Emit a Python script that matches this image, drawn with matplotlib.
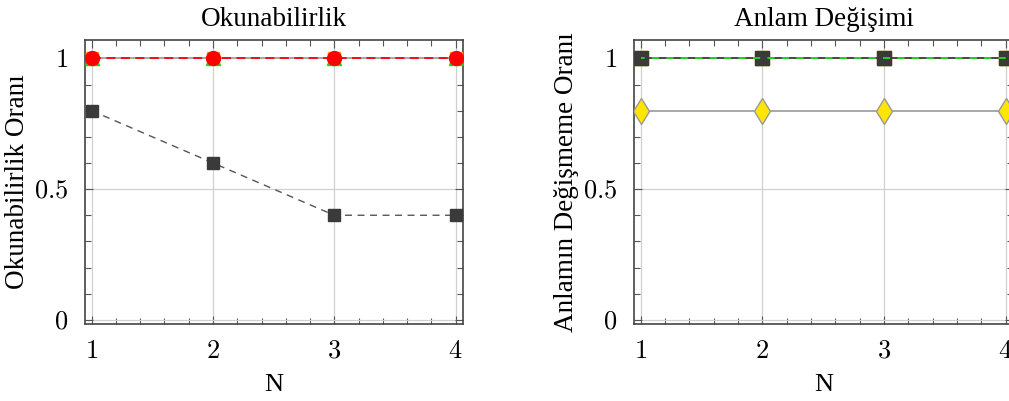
import matplotlib
matplotlib.use("Agg")
import matplotlib.pyplot as plt
from matplotlib.ticker import MultipleLocator, FuncFormatter

plt.rcParams['font.family'] = ['Liberation Serif', 'DejaVu Serif']
plt.rcParams['mathtext.fontset'] = 'cm'

n = [1, 2, 3, 4]

# Okunabilirlik
oku_orange = [1, 1, 1, 1]
oku_green = [1, 1, 1, 1]
oku_red = [1, 1, 1, 1]
oku_gray = [0.8, 0.6, 0.4, 0.4]

# Anlam Degisimi
anl_orange = [1, 1, 1, 1]
anl_green = [1, 1, 1, 1]
anl_dark = [1, 1, 1, 1]
anl_yellow = [0.8, 0.8, 0.8, 0.8]

fig = plt.figure(figsize=(10.09, 4.01), dpi=100)
ax1 = fig.add_axes([0.0842, 0.192, 0.3746, 0.708])
ax2 = fig.add_axes([0.6283, 0.192, 0.3756, 0.708])

tickfmt = FuncFormatter(lambda v, p: '$%g$' % v)


def style(ax):
    ax.set_xlim(0.945, 4.06)
    ax.set_ylim(-0.016, 1.07)
    ax.xaxis.set_major_locator(MultipleLocator(1))
    ax.xaxis.set_minor_locator(MultipleLocator(0.2))
    ax.yaxis.set_major_locator(MultipleLocator(0.5))
    ax.yaxis.set_minor_locator(MultipleLocator(0.1))
    ax.xaxis.set_major_formatter(tickfmt)
    ax.yaxis.set_major_formatter(tickfmt)
    ax.tick_params(which='both', direction='in', top=True, right=True,
                   color='#555555', width=0.8, labelsize=19)
    ax.tick_params(which='major', length=6)
    ax.tick_params(which='minor', length=4)
    ax.tick_params(axis='x', pad=12)
    ax.tick_params(axis='y', pad=12)
    ax.grid(True, which='major', color='#d0d0d0', lw=0.9)
    ax.set_axisbelow(True)
    for s in ax.spines.values():
        s.set_color('#444444')
        s.set_linewidth(1.2)
    ax.set_xlabel('N', fontsize=19, labelpad=8)


style(ax1)
style(ax2)

ax1.plot(n, oku_orange, color='#a0aab0', lw=1.2, marker='s', ms=9,
         mfc='orange', mec='orange', zorder=3)
ax1.plot(n, oku_green, color='#a0aab0', lw=1.2, marker='^', ms=10,
         mfc='#22cc22', mec='#22cc22', zorder=4)
ax1.plot(n, oku_red, color='red', lw=1.3, ls=(0, (5, 3)), marker='o', ms=10,
         mfc='red', mec='red', zorder=5)
ax1.plot(n, oku_gray, color='#555555', lw=1.0, ls=(0, (5, 4)), marker='s', ms=9,
         mfc='#3a3a3a', mec='#3a3a3a', zorder=5)
ax1.set_title('Okunabilirlik', fontsize=19.5, pad=10)
ax1.set_ylabel('Okunabilirlik Oranı', fontsize=19.5)
ax1.yaxis.set_label_coords(-0.146, 0.5)

ax2.plot(n, anl_orange, color='#555555', lw=1.2, marker='s', ms=10,
         mfc='orange', mec='orange', zorder=3)
ax2.plot(n, anl_green, ls='none', marker='^', ms=10,
         mfc='#22cc22', mec='#22cc22', zorder=4)
ax2.plot(n, anl_dark, color='#444444', lw=1.2, marker='s', ms=9.5,
         mfc='#3a3a3a', mec='#3a3a3a', zorder=5)
ax2.plot(n, anl_green, color='#22dd22', lw=1.3, ls=(2, (4, 4)), zorder=6)
ax2.plot(n, anl_yellow, color='#999999', lw=1.2, marker='d', ms=13,
         mfc='#ffe600', mec='#999999', mew=1.0, zorder=5)
ax2.set_title('Anlam Değişimi', fontsize=19.5, pad=10)
ax2.set_ylabel('Anlamın Değişmeme Oranı', fontsize=19.5)
ax2.yaxis.set_label_coords(-0.146, 0.5)

fig.savefig('out.png', dpi=100)
